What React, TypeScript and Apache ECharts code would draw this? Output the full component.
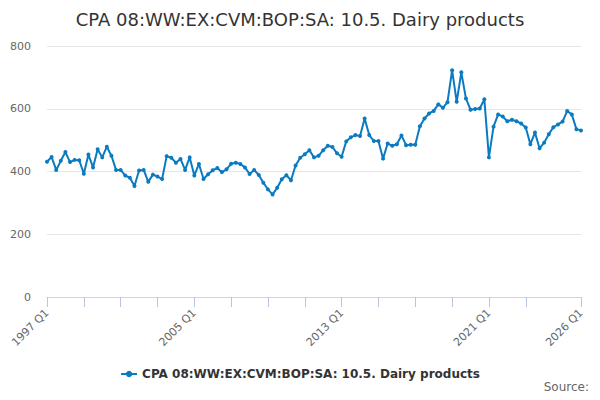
import React, { useEffect, useRef } from "react";
import * as echarts from "echarts";

const startYear = 1997;
const quarterCount = 117;
const categories: string[] = Array.from({ length: quarterCount }, (_, i) => `${startYear + Math.floor(i / 4)} Q${(i % 4) + 1}`);

const values: number[] = [
  431, 446, 405, 434, 462, 430, 437, 436, 393, 454,
  413, 471, 445, 479, 450, 405, 405, 387, 380, 354,
  403, 405, 367, 390, 384, 376, 449, 444, 428, 440,
  405, 445, 387, 424, 376, 391, 404, 411, 398, 407,
  425, 428, 424, 413, 392, 405, 389, 364, 343, 327,
  348, 375, 388, 372, 419, 444, 455, 468, 445, 450,
  468, 482, 478, 458, 447, 496, 509, 516, 513, 569,
  516, 497, 497, 441, 489, 482, 487, 515, 484, 485,
  485, 544, 569, 585, 593, 614, 603, 621, 723, 622,
  716, 633, 597, 599, 601, 630, 445, 543, 582, 575,
  560, 565, 560, 553, 540, 487, 524, 474, 492, 519,
  541, 550, 559, 593, 582, 535, 531,
];

const tickIndices: number[] = [0, 8, 16, 24, 32, 40, 48, 56, 64, 72, 80, 88, 96, 104, 116];
const labelIndices: number[] = [0, 32, 64, 96, 116];
const yTicks: number[] = [0, 200, 400, 600, 800];
const seriesName = "CPA 08:WW:EX:CVM:BOP:SA: 10.5. Dairy products";
const titleText = "CPA 08:WW:EX:CVM:BOP:SA: 10.5. Dairy products";
const sourceText = "Source:";

export default function App() {
  const ref = useRef<HTMLDivElement>(null);
  useEffect(() => {
    if (!ref.current) return;
    const chart = echarts.init(ref.current, undefined, { renderer: "svg" });
    const font = "'DejaVu Sans', Verdana, sans-serif";
    chart.setOption({
      animation: false,
      textStyle: { fontFamily: font },
      title: {
        text: titleText,
        left: "center",
        top: 5,
        textStyle: { fontSize: 18, fontWeight: "normal", color: "#333333", fontFamily: font },
      },
      legend: {
        data: [seriesName],
        bottom: 15,
        left: "center",
        itemWidth: 16,
        itemHeight: 8,
        itemGap: 5,
        textStyle: { fontSize: 12, fontWeight: "bold", color: "#333333", fontFamily: font },
      },
      graphic: [
        {
          type: "text",
          right: 11,
          bottom: 7,
          style: { text: sourceText, fontSize: 12, fill: "#666666", fontFamily: font },
        },
      ],
      grid: { left: 47, right: 19, top: 46, bottom: 103, containLabel: false },
      xAxis: {
        type: "category",
        data: categories,
        boundaryGap: false,
        axisLine: { lineStyle: { color: "#ccd6eb", width: 1 } },
        axisTick: {
          show: true,
          length: 10,
          lineStyle: { color: "#b8c7e0", width: 1 },
          customValues: tickIndices,
        },
        axisLabel: {
          show: true,
          rotate: 45,
          fontSize: 11,
          color: "#666666",
          margin: 14,
          fontFamily: font,
          customValues: labelIndices,
        },
        splitLine: { show: false },
      },
      yAxis: {
        type: "value",
        min: yTicks[0],
        max: yTicks[yTicks.length - 1],
        interval: 200,
        axisLine: { show: false },
        axisTick: { show: false },
        axisLabel: { fontSize: 11, color: "#666666", margin: 16, fontFamily: font },
        splitLine: { lineStyle: { color: "#e6e6e6", width: 1 } },
      },
      series: [
        {
          name: seriesName,
          type: "line",
          data: values,
          symbol: "circle",
          symbolSize: 4,
          showAllSymbol: true,
          lineStyle: { color: "#0b7bc1", width: 2 },
          itemStyle: { color: "#0b7bc1" },
        },
      ],
    });
    return () => chart.dispose();
  }, []);
  return <div ref={ref} style={{ width: 600, height: 400, margin: -8 }} />;
}
